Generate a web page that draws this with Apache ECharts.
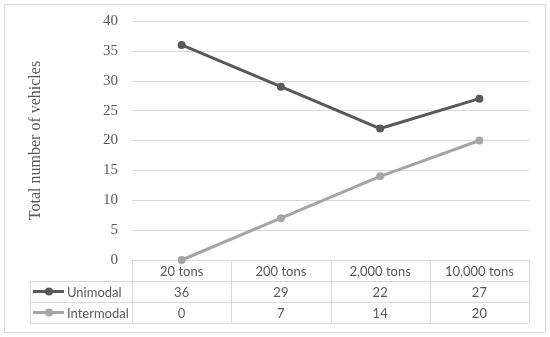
<!DOCTYPE html>
<html><head><meta charset="utf-8">
<script src="https://cdn.jsdelivr.net/npm/echarts@6/dist/echarts.min.js"></script>
<style>html,body{margin:0;padding:0;background:#fff}#c{width:550px;height:337px}</style>
</head><body><div id="c"></div>
<script>
const categories = ['20 tons', '200 tons', '2,000 tons', '10,000 tons'];
const unimodal = [36, 29, 22, 27];
const intermodal = [0, 7, 14, 20];
const seriesNames = ['Unimodal', 'Intermodal'];
const yTicks = [0, 5, 10, 15, 20, 25, 30, 35, 40];
const colors = ['#595959', '#A5A5A5'];

const L = 132, R = 529, T = 21, B = 260, rowH = 21, legendLeft = 30;
const gridCol = '#d9d9d9';
const sans = 'Lato, "Open Sans", sans-serif';
const serif = '"Liberation Serif", "DejaVu Serif", serif';

const chart = echarts.init(document.getElementById('c'), null, {renderer: 'canvas'});
chart.setOption({
  animation: false,
  grid: {left: L, right: 550 - R, top: T, bottom: 337 - B, containLabel: false},
  xAxis: {
    type: 'category', data: categories, boundaryGap: true,
    axisLine: {show: true, lineStyle: {color: gridCol, width: 1}},
    axisTick: {show: false},
    axisLabel: {show: false}
  },
  yAxis: {
    type: 'value', min: yTicks[0], max: yTicks[yTicks.length - 1], interval: 5,
    axisLine: {show: false}, axisTick: {show: false},
    axisLabel: {fontFamily: serif, fontSize: 15, color: '#595959', margin: 14},
    splitLine: {lineStyle: {color: gridCol, width: 1}},
    name: 'Total number of vehicles', nameLocation: 'middle', nameGap: 88,
    nameTextStyle: {fontFamily: serif, fontSize: 16, color: '#595959'}
  },
  series: [
    {name: seriesNames[0], type: 'line', data: unimodal, symbol: 'circle', symbolSize: 8,
     lineStyle: {color: colors[0], width: 3}, itemStyle: {color: colors[0]}},
    {name: seriesNames[1], type: 'line', data: intermodal, symbol: 'circle', symbolSize: 8,
     lineStyle: {color: colors[1], width: 3}, itemStyle: {color: colors[1]}}
  ]
});

// Build data table below the plot using the axis scale for columns
const xs = categories.map((c, i) => chart.convertToPixel({xAxisIndex: 0}, i));
const bw = xs.length > 1 ? xs[1] - xs[0] : (R - L);
const g = [];
const line = (x1, y1, x2, y2) => g.push({type: 'line', shape: {x1, y1, x2, y2}, style: {stroke: gridCol, lineWidth: 1}, silent: true});
// outer border
g.push({type: 'rect', shape: {x: 4.5, y: 4.5, width: 541, height: 328}, style: {fill: null, stroke: gridCol, lineWidth: 1}, silent: true});
// horizontal lines
line(legendLeft, B + rowH + 0.5, R, B + rowH + 0.5);
line(legendLeft, B + 2 * rowH + 0.5, R, B + 2 * rowH + 0.5);
line(legendLeft, B + 3 * rowH + 0.5, R, B + 3 * rowH + 0.5);
// vertical lines
for (let i = 0; i <= categories.length; i++) {
  const x = Math.round(xs[0] - bw / 2 + i * bw) + 0.5;
  line(x, B, x, B + 3 * rowH);
}
line(legendLeft + 0.5, B + rowH, legendLeft + 0.5, B + 3 * rowH);
// header
categories.forEach((c, i) => g.push({type: 'text', x: xs[i], y: B + rowH / 2 + 1, silent: true,
  style: {text: c, font: '13px ' + sans, fill: '#595959', align: 'center', verticalAlign: 'middle'}}));
// rows
[unimodal, intermodal].forEach((arr, r) => {
  const yc = B + rowH * (r + 1) + rowH / 2 + 1;
  arr.forEach((v, i) => g.push({type: 'text', x: xs[i], y: yc, silent: true,
    style: {text: String(v), font: '13px ' + sans, fill: '#595959', align: 'center', verticalAlign: 'middle'}}));
  g.push({type: 'line', shape: {x1: legendLeft + 3, y1: yc - 1, x2: legendLeft + 34, y2: yc - 1}, style: {stroke: colors[r], lineWidth: 3}, silent: true});
  g.push({type: 'circle', shape: {cx: legendLeft + 19, cy: yc - 1, r: 4}, style: {fill: colors[r]}, silent: true});
  g.push({type: 'text', x: legendLeft + 37, y: yc, silent: true,
    style: {text: seriesNames[r], font: '13px ' + sans, fill: '#595959', align: 'left', verticalAlign: 'middle'}});
});
chart.setOption({graphic: {elements: g}});
</script>
</body></html>
